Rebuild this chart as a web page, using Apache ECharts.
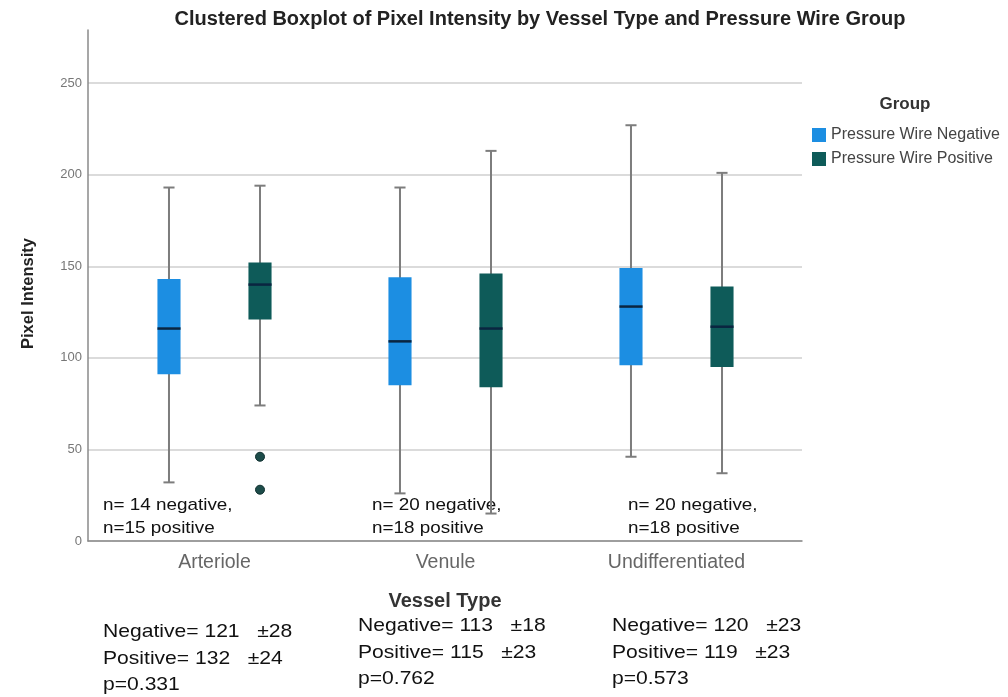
<!DOCTYPE html>
<html><head><meta charset="utf-8">
<script src="https://cdn.jsdelivr.net/npm/echarts@6/dist/echarts.min.js"></script>
<style>html,body{margin:0;padding:0;background:#fff}#c{width:1008px;height:697px}</style>
</head><body><div id="c"></div>
<script>
const categories = ['Arteriole', 'Venule', 'Undifferentiated'];
const groups = ['Pressure Wire Negative', 'Pressure Wire Positive'];
// [lower whisker, Q1, median, Q3, upper whisker]
const negativeBoxes = [[32, 91, 116, 143, 193], [26, 85, 109, 144, 193], [46, 96, 128, 149, 227]];
const positiveBoxes = [[74, 121, 140, 152, 194], [15, 84, 116, 146, 213], [37, 95, 117, 139, 201]];
// [category index, value]
const positiveOutliers = [[0, 46], [0, 28]];
const yTicks = [0, 50, 100, 150, 200, 250];
const nLabels = [
  ['n= 14 negative,', 'n=15 positive'],
  ['n= 20 negative,', 'n=18 positive'],
  ['n= 20 negative,', 'n=18 positive']
];
const statLabels = [
  ['Negative= 121   \u00b128', 'Positive= 132   \u00b124', 'p=0.331'],
  ['Negative= 113   \u00b118', 'Positive= 115   \u00b123', 'p=0.762'],
  ['Negative= 120   \u00b123', 'Positive= 119   \u00b123', 'p=0.573']
];
const titleText = 'Clustered Boxplot of Pixel Intensity by Vessel Type and Pressure Wire Group';

const colors = ['#1c8ee2', '#0e5b59'];
const FONT = "'Liberation Sans', Arial, sans-serif";
const OFFSET = 0.197, BOXW = 0.1;

function boxRender(offset, color) {
  return function (params, api) {
    const x = api.value(0) + offset;
    const pLo = api.coord([x, api.value(1)]);
    const pQ1 = api.coord([x, api.value(2)]);
    const pMed = api.coord([x, api.value(3)]);
    const pQ3 = api.coord([x, api.value(4)]);
    const pHi = api.coord([x, api.value(5)]);
    const w = api.size([BOXW, 0])[0];
    const cap = w * 0.24;
    const cx = pLo[0];
    const ws = { stroke: '#7d7d7d', lineWidth: 2 };
    return {
      type: 'group',
      children: [
        { type: 'line', shape: { x1: cx, y1: pLo[1], x2: cx, y2: pHi[1] }, style: ws },
        { type: 'line', shape: { x1: cx - cap, y1: pLo[1], x2: cx + cap, y2: pLo[1] }, style: ws },
        { type: 'line', shape: { x1: cx - cap, y1: pHi[1], x2: cx + cap, y2: pHi[1] }, style: ws },
        { type: 'rect', shape: { x: cx - w / 2, y: pQ3[1], width: w, height: pQ1[1] - pQ3[1] }, style: { fill: color } },
        { type: 'line', shape: { x1: cx - w / 2, y1: pMed[1], x2: cx + w / 2, y2: pMed[1] }, style: { stroke: '#0a2540', lineWidth: 2.5 } }
      ]
    };
  };
}

function toData(boxes) {
  return boxes.map((b, i) => [i].concat(b));
}

const chart = echarts.init(document.getElementById('c'), null, { renderer: 'canvas' });

const graphics = [
  { type: 'text', x: 905, y: 104, style: { text: 'Group', font: "bold 17px " + FONT, fill: '#333', align: 'center', verticalAlign: 'middle' } }
];
const nX = [103, 372, 628];
nLabels.forEach((lines, i) => {
  lines.forEach((t, j) => {
    graphics.push({ type: 'text', x: nX[i], y: 505 + j * 23, scaleX: 1.11,
      style: { text: t, font: "17px " + FONT, fill: '#111', verticalAlign: 'middle' } });
  });
});
const sX = [103, 358, 612];
const sY = [632, 626, 626];
statLabels.forEach((lines, i) => {
  lines.forEach((t, j) => {
    graphics.push({ type: 'text', x: sX[i], y: sY[i] + j * 26.5, scaleX: 1.11,
      style: { text: t, font: "19px " + FONT, fill: '#111', verticalAlign: 'middle' } });
  });
});

chart.setOption({
  animation: false,
  backgroundColor: '#fff',
  title: {
    text: titleText,
    left: 535, top: 4, textAlign: 'center',
    textStyle: { fontFamily: FONT, fontSize: 20, fontWeight: 'bold', color: '#222' }
  },
  legend: {
    orient: 'vertical', left: 812, top: 127, itemGap: 8, padding: 0,
    itemWidth: 14, itemHeight: 14, icon: 'rect',
    data: groups,
    textStyle: { fontFamily: FONT, fontSize: 16, color: '#444' }
  },
  grid: { left: 88, right: 206, top: 30, bottom: 156, containLabel: false },
  xAxis: {
    type: 'value', min: -0.5476, max: 2.5433,
    axisLine: { show: true, onZero: false, lineStyle: { color: '#8a8a8a', width: 1.5 } },
    axisTick: { show: false },
    splitLine: { show: false },
    axisLabel: {
      customValues: [0, 1, 2],
      formatter: v => categories[Math.round(v)],
      fontFamily: FONT, fontSize: 19.5, color: '#666', margin: 12
    },
    name: 'Vessel Type', nameLocation: 'middle', nameGap: 50,
    nameTextStyle: { fontFamily: FONT, fontSize: 20, fontWeight: 'bold', color: '#333' }
  },
  yAxis: {
    type: 'value', min: 0, max: 279, interval: 50,
    axisLine: { show: true, onZero: false, lineStyle: { color: '#8a8a8a', width: 1.5 } },
    axisTick: { show: false },
    splitLine: { show: true, showMaxLine: false, lineStyle: { color: '#cfcfcf', width: 1.5 } },
    axisLabel: {
      customValues: yTicks,
      fontFamily: FONT, fontSize: 13, color: '#777', margin: 6
    },
    name: 'Pixel Intensity', nameLocation: 'middle', nameGap: 51,
    nameTextStyle: { fontFamily: FONT, fontSize: 16.5, fontWeight: 'bold', color: '#222', padding: [0, 16, 0, 0] }
  },
  graphic: graphics,
  series: [
    {
      name: groups[0], type: 'custom', renderItem: boxRender(-OFFSET, colors[0]),
      itemStyle: { color: colors[0] },
      encode: { x: 0, y: [1, 2, 3, 4, 5] },
      data: toData(negativeBoxes)
    },
    {
      name: groups[1], type: 'custom', renderItem: boxRender(OFFSET, colors[1]),
      itemStyle: { color: colors[1] },
      encode: { x: 0, y: [1, 2, 3, 4, 5] },
      data: toData(positiveBoxes)
    },
    {
      name: 'Outliers', type: 'custom',
      renderItem: function (params, api) {
        const p = api.coord([api.value(0) + OFFSET, api.value(1)]);
        return { type: 'circle', shape: { cx: p[0], cy: p[1], r: 4.5 }, style: { fill: '#1d4c4a', stroke: '#10302f', lineWidth: 1 } };
      },
      encode: { x: 0, y: 1 },
      data: positiveOutliers
    }
  ]
});
</script></body></html>
